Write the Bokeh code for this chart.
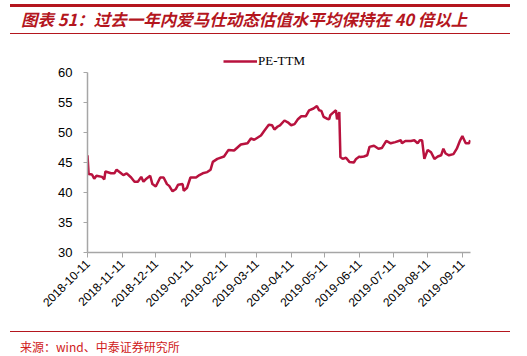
import math
import pandas as pd
from bokeh.plotting import figure
from bokeh.models import (Range1d, FixedTicker, DatetimeTickFormatter, Legend,
                          LegendItem, ColumnDataSource, Div)
from bokeh.layouts import column
from bokeh.embed import file_html
from bokeh.resources import INLINE

# ---------------- data ----------------
title_text = "图表 51：过去一年内爱马仕动态估值水平均保持在 40 倍以上"
source_text = "来源：wind、中泰证券研究所"
series_name = "PE-TTM"
start_date = "2018-10-11"
end_date = "2019-09-18"
y_ticks = [30, 35, 40, 45, 50, 55, 60]
x_tick_labels = ["2018-10-11", "2018-11-11", "2018-12-11", "2019-01-11",
                 "2019-02-11", "2019-03-11", "2019-04-11", "2019-05-11",
                 "2019-06-11", "2019-07-11", "2019-08-11", "2019-09-11"]

# days since 2018-10-11
day_offsets = [0, 1, 4, 6, 8, 13, 15, 16, 21, 24, 26, 30, 32, 35, 39, 42, 45,
               48, 50, 52, 56, 58, 61, 65, 68, 71, 73, 76, 79, 81, 85, 86, 89,
               92, 97, 100, 103, 107, 110, 112, 116, 122, 126, 131, 137, 143,
               146, 149, 155, 158, 162, 165, 167, 170, 172, 176, 179, 182, 185,
               188, 191, 195, 198, 202, 205, 207, 209, 211, 214, 216, 217, 220,
               222, 223, 225, 226, 228, 231, 234, 238, 240, 243, 244, 247, 250,
               252, 256, 260, 263, 267, 271, 275, 280, 281, 284, 289, 292, 295,
               297, 299, 301, 304, 307, 310, 313, 316, 318, 320, 323, 327, 330,
               333, 335, 336, 338, 341, 342]
pe_ttm = [46.2, 43.1, 43.0, 42.3, 42.8, 42.6, 42.2, 43.5, 43.2, 43.2, 43.8,
          43.2, 42.9, 43.2, 42.5, 41.8, 41.8, 42.6, 41.8, 42.2, 42.8, 41.4,
          41.0, 42.5, 42.5, 41.4, 41.1, 40.2, 40.6, 41.3, 41.4, 40.3, 40.8,
          42.5, 42.5, 42.9, 43.2, 43.4, 43.8, 45.1, 45.6, 46.0, 47.1, 47.0,
          48.0, 48.2, 49.0, 48.8, 49.5, 50.3, 51.3, 51.2, 50.5, 51.0, 51.2,
          52.0, 51.7, 51.2, 51.4, 52.2, 52.7, 52.7, 53.7, 54.0, 54.4, 53.7,
          53.6, 52.6, 52.3, 52.2, 52.9, 53.4, 53.7, 52.2, 53.4, 45.9, 45.6,
          45.8, 45.1, 45.0, 45.6, 46.0, 45.9, 46.0, 46.2, 47.6, 47.8, 47.3,
          47.4, 48.6, 48.2, 48.4, 48.7, 48.2, 48.6, 48.6, 48.7, 48.2, 48.7,
          48.7, 45.6, 47.1, 46.7, 45.6, 46.0, 46.2, 47.3, 46.5, 46.2, 46.4,
          47.3, 48.7, 49.4, 49.0, 48.2, 48.2, 48.7]

# ---------------- styles ----------------
RED = "#B4161E"
LINE = "#B8123E"
AXIS = "#A6A6A6"

start = pd.Timestamp(start_date)
dates = [start + pd.Timedelta(days=d) for d in day_offsets]
src = ColumnDataSource(dict(date=dates, pe=pe_ttm))

# y range extends above 60 to leave room for the legend; the axis itself
# is bounded to 30..60
p = figure(width=527, height=294, x_axis_type="datetime",
           output_backend="svg", toolbar_location=None,
           x_range=Range1d(start, pd.Timestamp(end_date) + pd.Timedelta(hours=6)),
           y_range=Range1d(30, 64),
           min_border_left=87, min_border_right=57,
           min_border_top=12, min_border_bottom=78)
p.outline_line_color = None
p.xgrid.visible = False
p.ygrid.visible = False
p.background_fill_color = "white"
p.border_fill_color = "white"

r = p.line("date", "pe", source=src, line_color=LINE, line_width=2.5)

tick_ms = [pd.Timestamp(t).value / 1e6 for t in x_tick_labels]
xa = p.xaxis[0]
xa.ticker = FixedTicker(ticks=tick_ms)
fmt = "%Y-%m-%d"
xa.formatter = DatetimeTickFormatter(milliseconds=fmt, seconds=fmt, minsec=fmt,
                                     minutes=fmt, hourmin=fmt, hours=fmt,
                                     days=fmt, months=fmt, years=fmt)
xa.major_label_orientation = math.pi / 4
xa.major_label_text_font = "Liberation Sans"
xa.major_label_text_font_size = "12px"
xa.major_label_text_color = "#000000"
xa.major_label_standoff = 4
xa.axis_line_color = AXIS
xa.axis_line_width = 1.5
xa.major_tick_line_color = AXIS
xa.major_tick_out = 5
xa.major_tick_in = 0
xa.minor_tick_line_color = None

ya = p.yaxis[0]
ya.ticker = FixedTicker(ticks=y_ticks)
ya.bounds = (30, 60)
ya.major_label_text_font = "Liberation Sans"
ya.major_label_text_font_size = "13px"
ya.major_label_text_color = "#000000"
ya.major_label_standoff = 11
ya.axis_line_color = AXIS
ya.axis_line_width = 1.5
ya.major_tick_line_color = AXIS
ya.major_tick_out = 4
ya.major_tick_in = 0
ya.minor_tick_line_color = None

legend = Legend(items=[LegendItem(label=series_name, renderers=[r])],
                location=(136, 181), padding=0, margin=0,
                glyph_width=34, glyph_height=20, label_standoff=1,
                label_text_font="Liberation Serif", label_text_font_size="13px",
                label_text_color="#000000",
                border_line_alpha=0, background_fill_alpha=0)
p.add_layout(legend, "center")

title_html = f"""<div style="position:relative;width:527px;height:36px;background:white;">
<div style="position:absolute;left:10px;top:4px;width:500px;height:0;border-top:3px solid {RED};"></div>
<div style="position:absolute;left:21px;top:9px;font-family:'Noto Sans CJK SC';font-size:16.5px;font-weight:bold;font-style:italic;color:{RED};white-space:nowrap;line-height:20px;">{title_text}</div>
<div style="position:absolute;left:10px;top:33px;width:500px;height:0;border-top:1px solid {RED};"></div>
</div>"""
title_div = Div(text=title_html, width=527, height=36, margin=0)

source_html = f"""<div style="position:relative;width:527px;height:26px;background:white;">
<div style="position:absolute;left:10px;top:1px;width:500px;height:0;border-top:1px solid {RED};"></div>
<div style="position:absolute;left:20px;top:9px;font-family:'Noto Sans CJK SC';font-size:12px;color:#D02020;white-space:nowrap;line-height:16px;">{source_text}</div>
</div>"""
source_div = Div(text=source_html, width=527, height=26, margin=0)

layout = column(title_div, p, source_div, spacing=0, margin=0)

open("out.html", "w").write(file_html(layout, INLINE))
